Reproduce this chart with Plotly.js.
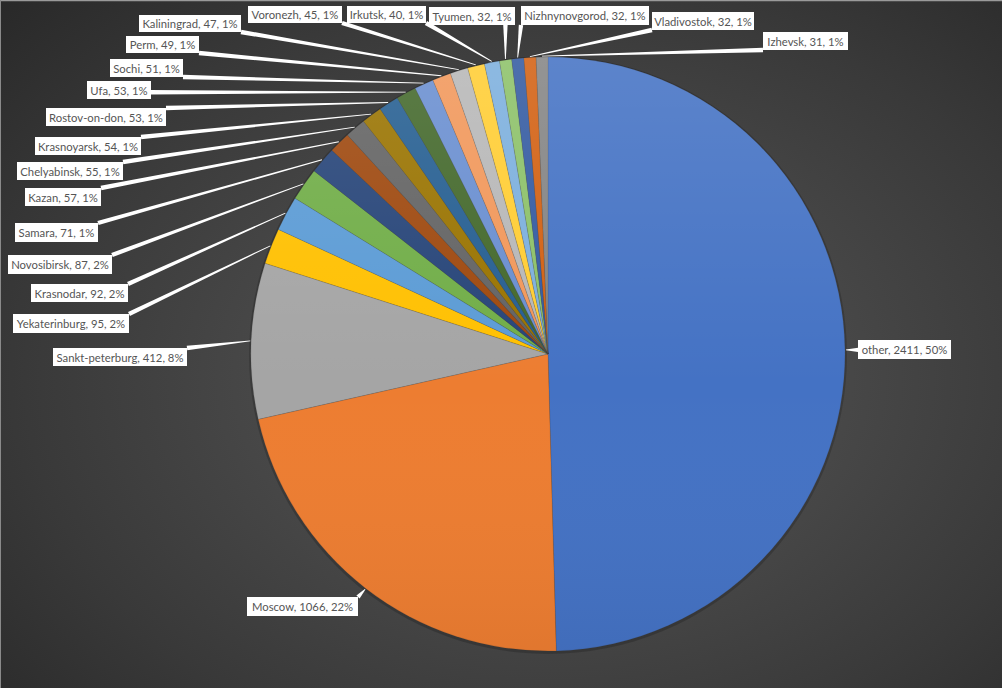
<!DOCTYPE html>
<html><head><meta charset="utf-8">
<script src="https://cdn.plot.ly/plotly-3.0.1.min.js"></script>
<style>
html,body{margin:0;padding:0;width:1002px;height:688px;overflow:hidden;
background: radial-gradient(ellipse 75% 80% at 55% 55%, #545454 0%, #474747 40%, #393939 70%, #292929 100%);}
#chart{width:1002px;height:688px;}
</style></head><body><div id="chart"></div>
<script>
// ---- data ----
const cities = ["other","Moscow","Sankt-peterburg","Yekaterinburg","Krasnodar","Novosibirsk","Samara","Kazan","Chelyabinsk","Krasnoyarsk","Rostov-on-don","Ufa","Sochi","Perm","Kaliningrad","Voronezh","Irkutsk","Tyumen","Nizhnynovgorod","Vladivostok","Izhevsk"];
const counts = [2411,1066,412,95,92,87,71,57,55,54,53,53,51,49,47,45,40,32,32,32,31];

// ---- style ----
const colors = ["#4472C4","#ED7D31","#A5A5A5","#FFC000","#5B9BD5","#70AD47","#264478","#9E480E","#636363","#997300","#255E91","#43682B","#698ED0","#F1975A","#B7B7B7","#FFCD33","#7CAFDD","#8CC168","#335AA1","#D26012","#848484"];
// label boxes in pixels: [left, top, right, bottom]
const labelBoxes = [
  [858,340,951,359],[247,597,358,616],[53,348,187,366],[13,314,129,333],[31,284,128,302],
  [8,255,112,274],[15,223,98,242],[25,188,101,206],[17,162,123,180],[35,137,141,155],
  [46,108,166,126],[87,81,151,99],[110,59,183,77],[126,36,199,53],[139,15,241,32],
  [248,6,342,23],[347,6,426,23],[429,7,515,25],[521,6,649,25],[652,12,754,30],[763,32,848,50]
];

const W = 1002, H = 688, CX = 548, CY = 354, R = 297;
const px = x => x / W, py = y => 1 - y / H;
const total = counts.reduce((a, b) => a + b, 0);

const annotations = [];
const shapes = [];

// pie shadow
shapes.push({type:'circle', xref:'paper', yref:'paper', layer:'below',
  x0:px(CX-R-2), x1:px(CX+R+2), y0:py(CY+R+3), y1:py(CY-R-1),
  fillcolor:'rgba(0,0,0,0.18)', line:{width:0}});
// frame edges
shapes.push({type:'line', xref:'paper', yref:'paper', x0:0, x1:1, y0:py(0.5), y1:py(0.5), line:{color:'#9a9a9a', width:1.5}});
shapes.push({type:'line', xref:'paper', yref:'paper', x0:px(0.5), x1:px(0.5), y0:0, y1:1, line:{color:'#8a8a8a', width:1}});

let cum = 0;
counts.forEach((v, i) => {
  const mid = (cum + v / 2) / total;
  cum += v;
  const th = 2 * Math.PI * mid;
  const tx = CX + (R + 1) * Math.sin(th), ty = CY - (R + 1) * Math.cos(th);
  const b = labelBoxes[i];
  const ax = Math.min(Math.max(tx, b[0]), b[2]);
  const ay = Math.min(Math.max(ty, b[1]), b[3]);
  const pct = Math.round(v / total * 100);
  annotations.push({
    text: cities[i] + ', ' + v + ', ' + pct + '%',
    xref:'paper', yref:'paper', x:px(b[0]), y:py(b[1]), xanchor:'left', yanchor:'top',
    width: b[2]-b[0], height: b[3]-b[1], align:'center', valign:'middle',
    showarrow:false, bgcolor:'#ffffff', borderpad:0, borderwidth:0,
    font:{family:'Lato, "Open Sans", sans-serif', size:11.3, color:'#555555'}
  });
  const dx = tx - ax, dy = ty - ay, L = Math.hypot(dx, dy);
  if (L > 2) {
    const nx = -dy / L, ny = dx / L;
    const w0 = 2.2, w1 = 0.4;
    const pts = [[ax+nx*w0, ay+ny*w0],[tx+nx*w1, ty+ny*w1],[tx-nx*w1, ty-ny*w1],[ax-nx*w0, ay-ny*w0]];
    const path = 'M ' + pts.map(p => px(p[0]) + ',' + py(p[1])).join(' L ') + ' Z';
    shapes.push({type:'path', xref:'paper', yref:'paper', path:path, fillcolor:'#ffffff', line:{width:0}, layer:'above'});
  }
});

const svg = "<svg xmlns='http://www.w3.org/2000/svg' width='594' height='594'><defs><linearGradient id='g' x1='0' y1='0' x2='0' y2='1'><stop offset='0' stop-color='#ffffff' stop-opacity='0.13'/><stop offset='0.55' stop-color='#ffffff' stop-opacity='0'/><stop offset='1' stop-color='#000000' stop-opacity='0.05'/></linearGradient></defs><circle cx='297' cy='297' r='297' fill='url(#g)'/></svg>";

const trace = {
  type:'pie', labels:cities, values:counts, sort:false, direction:'clockwise', rotation:0,
  textinfo:'none', hoverinfo:'label+value+percent',
  marker:{colors:colors, line:{color:'rgba(60,60,60,0.3)', width:0.5}},
  domain:{x:[px(CX-R), px(CX+R)], y:[py(CY+R), py(CY-R)]},
  showlegend:false
};

const layout = {
  width:W, height:H, margin:{l:0,r:0,t:0,b:0},
  paper_bgcolor:'rgba(0,0,0,0)', plot_bgcolor:'rgba(0,0,0,0)',
  showlegend:false, annotations:annotations, shapes:shapes,
  images:[{source:'data:image/svg+xml;charset=utf-8,' + encodeURIComponent(svg),
    xref:'paper', yref:'paper', x:px(CX-R), y:py(CY-R), sizex:2*R/W, sizey:2*R/H,
    xanchor:'left', yanchor:'top', sizing:'stretch', layer:'above'}]
};

Plotly.newPlot('chart', [trace], layout, {displayModeBar:false, staticPlot:true});
</script></body></html>
